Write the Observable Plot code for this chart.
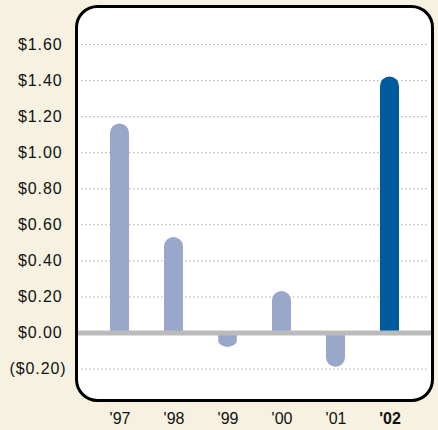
<!DOCTYPE html>
<html>
<head>
<meta charset="utf-8">
<script src="https://cdn.jsdelivr.net/npm/d3@7"></script>
<script src="https://cdn.jsdelivr.net/npm/@observablehq/plot@0.6"></script>
<style>
  html, body { margin: 0; padding: 0; background: #f6f1e0; }
  #chart svg { display: block; }
  #chart g[aria-label="y-axis tick label"] text { letter-spacing: 0.9px; }
</style>
</head>
<body>
<div id="chart"></div>
<script>
// Data
const years = ["'97", "'98", "'99", "'00", "'01", "'02"];
const values = [1.16, 0.53, -0.08, 0.23, -0.19, 1.42];
const highlight = ["'02"];
const yTicks = [-0.2, 0, 0.2, 0.4, 0.6, 0.8, 1.0, 1.2, 1.4, 1.6];

const data = years.map((year, i) => ({year, value: values[i], hi: highlight.includes(year)}));
const pos = data.filter(d => d.value >= 0);
const neg = data.filter(d => d.value < 0);

const colorLight = "#99a7cb";
const colorDark = "#005b9e";
const fillOf = d => d.hi ? colorDark : colorLight;
const fmt = d => d < 0 ? `($${Math.abs(d).toFixed(2)})` : `$${d.toFixed(2)}`;

const chart = Plot.plot({
  width: 438,
  height: 430,
  marginLeft: 76,
  marginRight: 6,
  marginTop: 6,
  marginBottom: 30,
  style: {background: "#f6f1e0", fontFamily: "'Liberation Sans', Arial, Helvetica, sans-serif", fontSize: "16px", color: "#111"},
  x: {domain: years, paddingInner: 0.65, paddingOuter: 0.6, label: null},
  y: {domain: [-0.374, 1.811], label: null},
  marks: [
    Plot.frame({fill: "white", rx: 21}),
    Plot.ruleY(yTicks.filter(d => d !== 0), {y: d => d, stroke: "#a8a8a8", strokeWidth: 1, strokeDasharray: "1.5,2.5", insetLeft: 5, insetRight: 5}),
    Plot.barY(data, {x: "year", y1: 0, y2: "value", fill: fillOf, rx: 9.5}),
    Plot.barY(pos, {x: "year", y1: 0, y2: "value", fill: fillOf, insetTop: 9.5}),
    Plot.barY(neg, {x: "year", y1: 0, y2: "value", fill: fillOf, insetBottom: 9.5}),
    Plot.ruleY([0], {stroke: "#bbbbbb", strokeWidth: 5}),
    Plot.frame({stroke: "black", strokeWidth: 3, rx: 21}),
    Plot.axisY(yTicks.filter(d => d >= 0), {tickSize: 0, tickPadding: 14, tickFormat: fmt, fontSize: 16, label: null}),
    Plot.axisY(yTicks.filter(d => d < 0), {tickSize: 0, tickPadding: 10, tickFormat: fmt, fontSize: 16, label: null}),
    Plot.axisX(years.filter(y => !highlight.includes(y)), {tickSize: 0, tickPadding: 12.5, fontSize: 16, label: null}),
    Plot.axisX(highlight, {tickSize: 0, tickPadding: 12.5, fontSize: 16, fontWeight: "bold", label: null})
  ]
});
document.getElementById("chart").append(chart);
</script>
</body>
</html>
